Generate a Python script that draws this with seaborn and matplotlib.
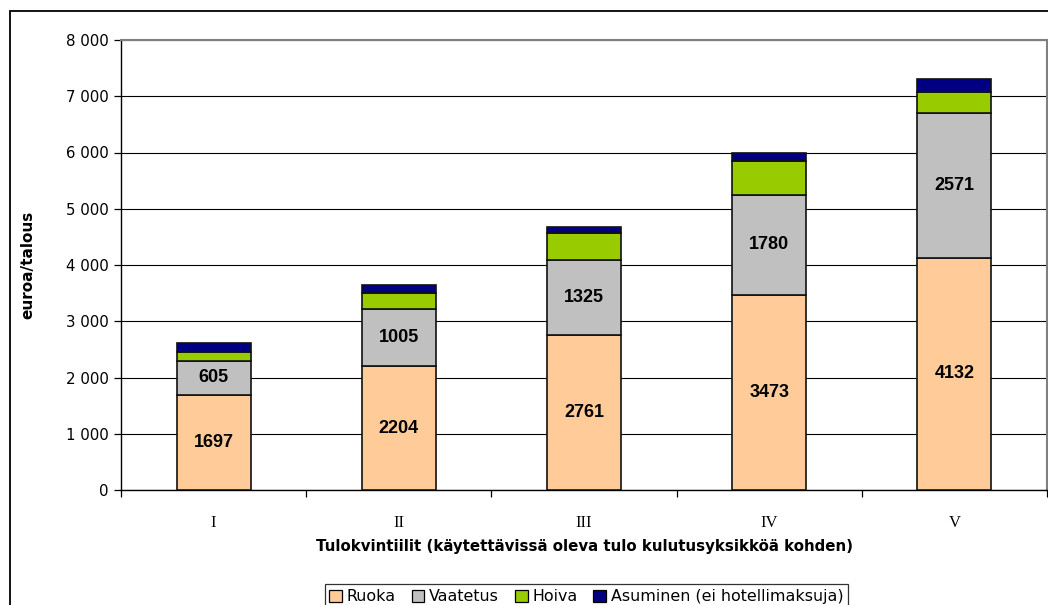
import pandas as pd
import matplotlib
matplotlib.use('Agg')
import matplotlib.pyplot as plt
import matplotlib.patches as mpatches
import seaborn as sns
from matplotlib.ticker import FuncFormatter, MultipleLocator, FixedLocator

# Data
kvintiilit = ['I', 'II', 'III', 'IV', 'V']
ruoka = [1697, 2204, 2761, 3473, 4132]
vaatetus = [605, 1005, 1325, 1780, 2571]
hoiva = [160, 300, 485, 600, 373]
asuminen = [160, 137, 107, 142, 231]

sarjat = ['Ruoka', 'Vaatetus', 'Hoiva', 'Asuminen (ei hotellimaksuja)']
varit = ['#FFCC99', '#C0C0C0', '#99CC00', '#000080']

df = pd.DataFrame({'kvintiili': kvintiilit, 'Ruoka': ruoka, 'Vaatetus': vaatetus,
                   'Hoiva': hoiva, 'Asuminen (ei hotellimaksuja)': asuminen})

sns.set_style('white')
plt.rcParams['font.family'] = ['DejaVu Sans']
plt.rcParams['text.color'] = 'black'
plt.rcParams['axes.labelcolor'] = 'black'
plt.rcParams['xtick.color'] = 'black'
plt.rcParams['ytick.color'] = 'black'

fig = plt.figure(figsize=(10.48, 6.05), dpi=100)
ax = fig.add_axes([121 / 1048, 115 / 605, 926 / 1048, 450 / 605])

# stacked bars, one seaborn layer per series
pohja = [0] * len(kvintiilit)
for sarja, vari in zip(sarjat, varit):
    sns.barplot(data=df, x='kvintiili', y=sarja, bottom=pohja, color=vari,
                width=0.4, edgecolor='#111111', linewidth=1.2, saturation=1,
                ax=ax, zorder=3)
    pohja = [p + v for p, v in zip(pohja, df[sarja])]

# value labels on the two lowest series
for i in range(len(kvintiilit)):
    ax.text(i, ruoka[i] / 2, str(ruoka[i]), ha='center', va='center', color='black',
            fontsize=13, fontweight='bold', family='Liberation Sans', zorder=5)
    ax.text(i, ruoka[i] + vaatetus[i] / 2, str(vaatetus[i]), ha='center', va='center',
            color='black', fontsize=13, fontweight='bold', family='Liberation Sans', zorder=5)

ax.set_xlim(-0.5, 4.5)
ax.set_ylim(0, 8000)
ax.yaxis.set_major_locator(MultipleLocator(1000))
ax.yaxis.set_major_formatter(FuncFormatter(lambda v, p: f'{int(v):,}'.replace(',', ' ')))
ax.grid(axis='y', color='#000000', linewidth=0.8, zorder=0)
ax.set_axisbelow(True)

ax.tick_params(axis='y', which='major', direction='out', length=5, width=0.9,
               color='#000000', labelsize=10.8, pad=4, left=True)
ax.tick_params(axis='x', which='major', length=0, pad=18)
ax.xaxis.set_minor_locator(FixedLocator([-0.5, 0.5, 1.5, 2.5, 3.5, 4.5]))
ax.tick_params(axis='x', which='minor', direction='out', length=5, width=0.9,
               color='#000000', bottom=True)
for lab in ax.get_xticklabels():
    lab.set_family('Liberation Serif')
    lab.set_fontsize(12)

for s in ['left', 'bottom']:
    ax.spines[s].set_color('#000000')
    ax.spines[s].set_linewidth(1.0)
for s in ['top', 'right']:
    ax.spines[s].set_color('#808080')
    ax.spines[s].set_linewidth(1.5)

ax.set_xlabel('Tulokvintiilit (käytettävissä oleva tulo kulutusyksikköä kohden)',
              fontsize=10.8, fontweight='bold')
ax.set_ylabel('euroa/talous', fontsize=11, fontweight='bold')
ax.xaxis.set_label_coords(0.5, -0.108)
ax.yaxis.set_label_coords(-0.092, 0.5)

kahvat = [mpatches.Patch(facecolor=v, edgecolor='#000000', linewidth=0.9) for v in varit]
leg = fig.legend(kahvat, sarjat, loc='upper center', bbox_to_anchor=(0.5595, 0.047),
                 ncol=4, frameon=True, fancybox=False, fontsize=11.4,
                 handlelength=0.8, handleheight=0.8, handletextpad=0.3,
                 columnspacing=1.0, borderpad=0.3, edgecolor='#000000')
leg.get_frame().set_linewidth(0.9)

# outer chart border
fig.patches.append(mpatches.Rectangle((10 / 1048, -0.2), 1.2, 1.2 - 11 / 605,
                                      transform=fig.transFigure, fill=False,
                                      edgecolor='#000000', linewidth=1.3))

fig.savefig('out.png', dpi=100)
